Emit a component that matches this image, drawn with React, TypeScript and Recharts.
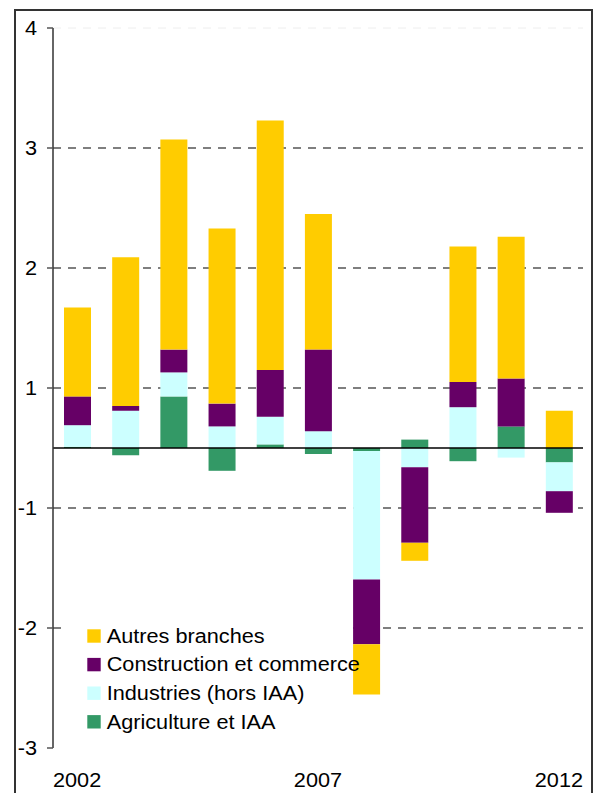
import React from 'react';
import { BarChart, Bar, XAxis, YAxis, CartesianGrid, ReferenceLine, Legend } from 'recharts';

const years = ['2002', '2003', '2004', '2005', '2006', '2007', '2008', '2009', '2010', '2011', '2012'];
const agriculture = [0.01, -0.06, 0.43, -0.19, 0.03, -0.05, -0.025, 0.07, -0.11, 0.18, -0.12];
const industries = [0.18, 0.31, 0.2, 0.18, 0.23, 0.14, -1.07, -0.16, 0.34, -0.08, -0.24];
const construction = [0.24, 0.04, 0.19, 0.19, 0.39, 0.68, -0.54, -0.63, 0.21, 0.4, -0.18];
const autres = [0.74, 1.24, 1.75, 1.46, 2.08, 1.13, -0.42, -0.15, 1.13, 1.18, 0.31];

const seriesKeys = ['agri', 'ind', 'cons', 'autres'];
const seriesNames = ['Agriculture et IAA', 'Industries (hors IAA)', 'Construction et commerce', 'Autres branches'];
const seriesColors = ['#339966', '#CCFFFF', '#660066', '#FFCC00'];

const yTicks = [-2.5, -1.5, -0.5, 0.5, 1.5, 2.5, 3.5];
const gridValues = [2.5, 1.5, 0.5, -0.5, -1.5];
const faintGridValues = [3.5];

const data = years.map((year, i) => ({
  year,
  agri: agriculture[i],
  ind: industries[i],
  cons: construction[i],
  autres: autres[i],
}));

const FONT = '"Liberation Sans", Arial, sans-serif';
const SX = 1.085;

const fmtY = (v: number) => String(Math.sign(v) * Math.round(Math.abs(v)));

const YTick = (props: any) => {
  const { x, y, payload } = props;
  return (
    <text
      transform={`translate(${x},${y + 7}) scale(${SX},1)`}
      textAnchor="end"
      fontFamily={FONT}
      fontSize={20}
      fill="#000"
    >
      {fmtY(payload.value)}
    </text>
  );
};

const XTick = (props: any) => {
  const { x, y, payload } = props;
  return (
    <text
      transform={`translate(${x},${y + 39}) scale(${SX},1)`}
      textAnchor="middle"
      fontFamily={FONT}
      fontSize={20}
      fill="#000"
    >
      {payload.value}
    </text>
  );
};

const LegendContent = () => {
  const order = [3, 2, 1, 0];
  return (
    <svg width={290} height={125} style={{ overflow: 'visible', display: 'block' }}>
      {order.map((s, i) => (
        <g key={s}>
          <rect x={24.3} y={17.3 + 28.6 * i} width={13.4} height={13.4} fill={seriesColors[s]} />
          <text
            transform={`translate(43.7,${30.7 + 28.6 * i}) scale(${SX},1)`}
            fontFamily={FONT}
            fontSize={20}
            fill="#000"
          >
            {seriesNames[s]}
          </text>
        </g>
      ))}
    </svg>
  );
};

export default function App() {
  return (
    <div style={{ position: 'fixed', left: 0, top: 0, width: 595, height: 793, overflow: 'hidden', background: '#fff' }}>
      <BarChart
        width={595}
        height={793}
        data={data}
        stackOffset="sign"
        margin={{ top: 28, right: 12, bottom: 0, left: 8 }}
        barSize={27}
      >
        <CartesianGrid
          horizontal
          vertical={false}
          horizontalValues={gridValues}
          stroke="#555"
          strokeWidth={1.6}
          strokeDasharray="8 7"
        />
        <CartesianGrid
          horizontal
          vertical={false}
          horizontalValues={faintGridValues}
          stroke="#eeeeee"
          strokeWidth={1}
          strokeDasharray="8 7"
        />
        <XAxis
          dataKey="year"
          axisLine={false}
          tickLine={false}
          tickSize={0}
          tickMargin={0}
          height={45}
          interval={4}
          tick={<XTick />}
        />
        <YAxis
          type="number"
          domain={[-2.5, 3.5]}
          ticks={yTicks}
          width={45}
          tickSize={6}
          tickMargin={10}
          axisLine={{ stroke: '#333', strokeWidth: 1.5 }}
          tickLine={{ stroke: '#555', strokeWidth: 1.5 }}
          tick={<YTick />}
          allowDataOverflow
        />
        {seriesKeys.map((k, i) => (
          <Bar key={k} dataKey={k} name={seriesNames[i]} stackId="a" fill={seriesColors[i]} isAnimationActive={false} />
        ))}
        <ReferenceLine y={0} stroke="#000" strokeWidth={1.5} />
        <Legend
          layout="horizontal"
          verticalAlign="middle"
          align="center"
          content={<LegendContent />}
          wrapperStyle={{ position: 'absolute', left: 63, top: 612, width: 290, height: 125, background: '#fff' }}
        />
      </BarChart>
      <div
        style={{
          position: 'absolute',
          left: 14,
          top: 9,
          width: 579,
          height: 820,
          boxSizing: 'border-box',
          border: '2px solid #333',
          pointerEvents: 'none',
        }}
      />
    </div>
  );
}
